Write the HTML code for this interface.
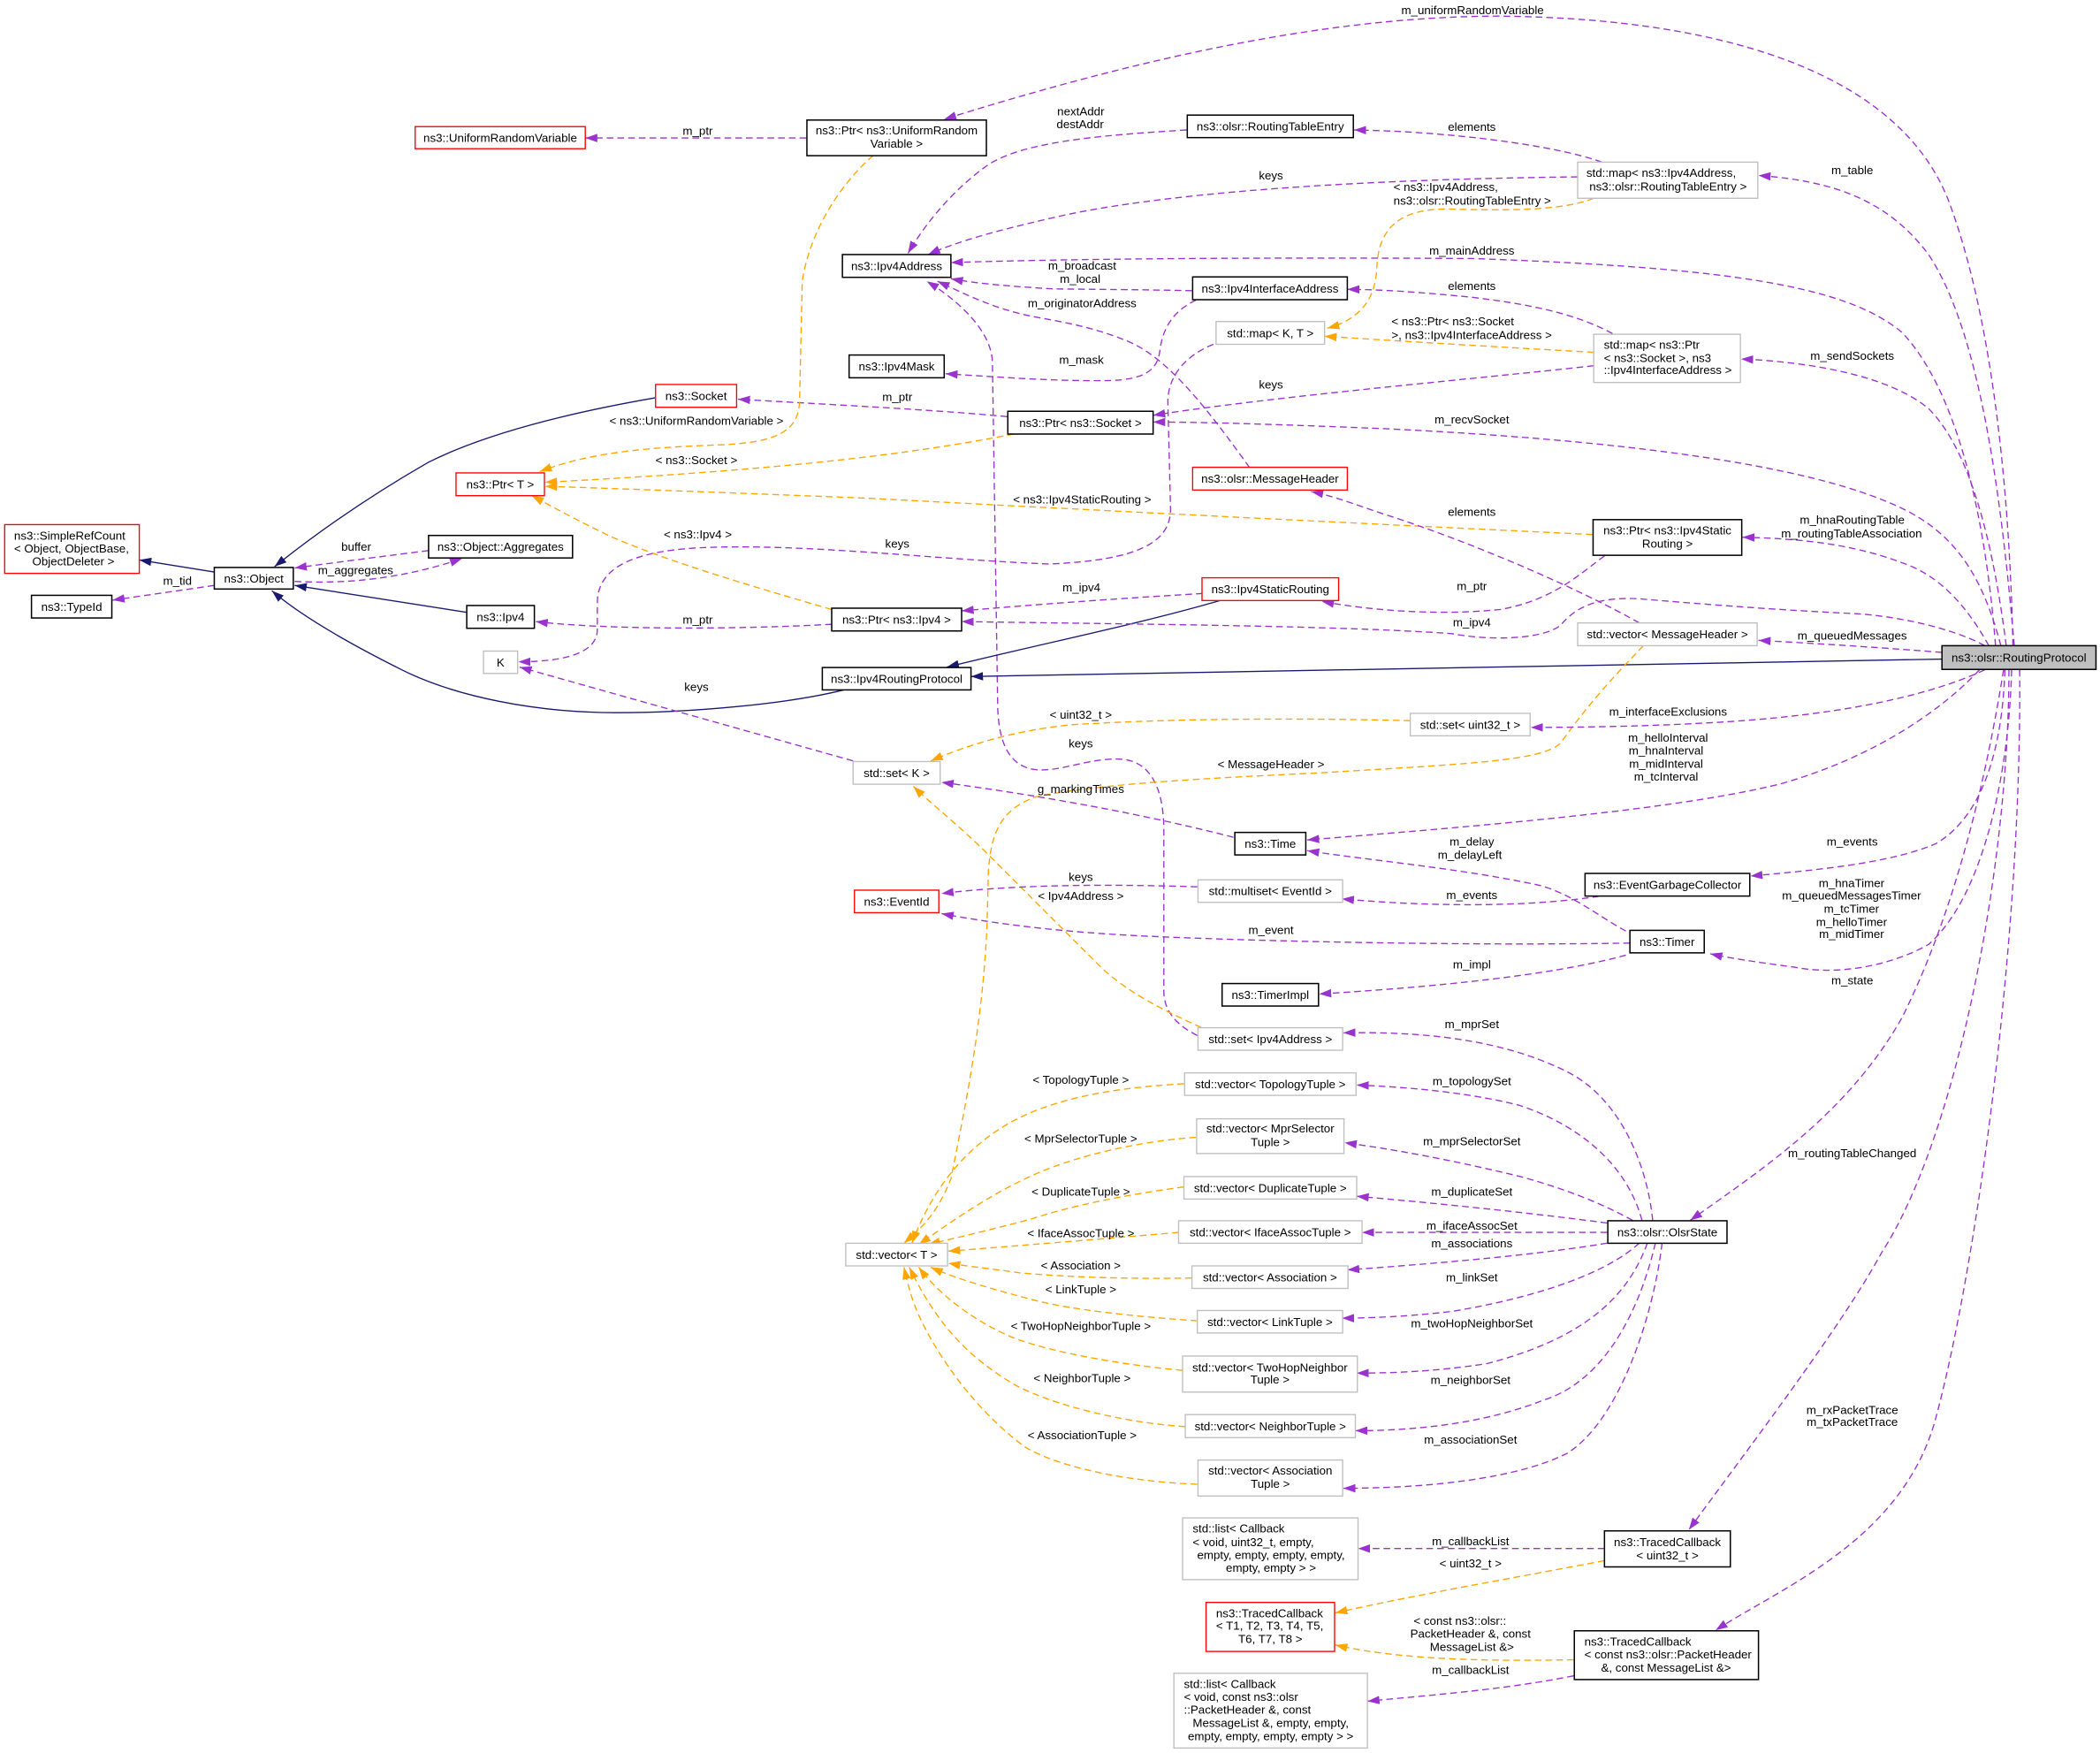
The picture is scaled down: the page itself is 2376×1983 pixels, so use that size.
<!DOCTYPE html>
<html><head><meta charset="utf-8"><style>
html,body{margin:0;padding:0;background:#fff;}
svg{display:block;}
text{font-family:"Liberation Sans",Arial,sans-serif;font-size:8.8px;fill:#000;}
.m{text-anchor:middle;}
.s{text-anchor:start;}
.p{fill:none;stroke:#9a32cd;stroke-width:0.9;stroke-dasharray:5,3;marker-end:url(#ap);}
.o{fill:none;stroke:#ffa500;stroke-width:0.9;stroke-dasharray:5,3;marker-end:url(#ao);}
.n{fill:none;stroke:#191970;stroke-width:0.9;marker-end:url(#an);}
.bk{fill:#fff;stroke:#000;stroke-width:1;}
.gr{fill:#fff;stroke:#bfbfbf;stroke-width:0.9;}
.rd{fill:#fff;stroke:#ff0000;stroke-width:0.9;}
</style></head><body>
<svg xmlns="http://www.w3.org/2000/svg" width="2376" height="1983" viewBox="0 0 1568 1308.6">
<defs>
<marker id="ap" viewBox="0 0 10 7" refX="10" refY="3.5" markerWidth="9" markerHeight="6.3" markerUnits="userSpaceOnUse" orient="auto"><path d="M0,0L10,3.5L0,7z" fill="#9a32cd"/></marker>
<marker id="ao" viewBox="0 0 10 7" refX="10" refY="3.5" markerWidth="9" markerHeight="6.3" markerUnits="userSpaceOnUse" orient="auto"><path d="M0,0L10,3.5L0,7z" fill="#ffa500"/></marker>
<marker id="an" viewBox="0 0 10 7" refX="10" refY="3.5" markerWidth="9" markerHeight="6.3" markerUnits="userSpaceOnUse" orient="auto"><path d="M0,0L10,3.5L0,7z" fill="#191970"/></marker>
</defs>
<rect x="0" y="0" width="1568" height="1308.6" fill="#fff"/>

<!-- edges -->
<path class="p" d="M602,103 L437,103"/>
<path class="p" d="M1503,482 C1500,350 1485,230 1455,150 C1420,60 1300,14 1120,12 C980,12 830,50 705,89"/>
<path class="p" d="M1196,121 C1160,108 1080,98 1011,97"/>
<path class="p" d="M886,97 C820,101 760,106 735,125 C712,142 692,165 678,189"/>
<path class="p" d="M1178,132 C1000,134 860,145 784,163 C745,172 715,180 693,190"/>
<path class="o" d="M1190,148 C1165,158 1120,157 1080,156 C1040,156 1029,175 1028,200 C1027,228 1010,240 991,245"/>
<path class="p" d="M1490,482 C1482,380 1460,290 1420,248 C1380,215 1300,200 1100,193 C950,192 800,193 710,196"/>
<path class="p" d="M890,217 C850,216 800,216 784,215.5 C760,214 730,212 710,208"/>
<path class="p" d="M933,349 C905,310 875,270 845,256 C815,243 790,240 770,236 C740,230 718,218 700,210"/>
<path class="p" d="M894,773 C880,766 869,756 869,740 L869,620 C869,590 860,570 840,567 C815,564 790,578 770,574 C752,570 746,552 745,530 L741,270 C740,245 712,222 692,210"/>
<path class="p" d="M893,224 C876,232 868,245 866,262 C864,278 852,283 830,284 C790,285 740,281 706,279"/>
<path class="p" d="M752,311 C700,306 620,302 551,298"/>
<path class="p" d="M1190,273 C1100,283 950,296 861,310"/>
<path class="p" d="M1204,249 C1180,236 1150,228 1100,222 C1060,218 1030,216 1006,216"/>
<path class="o" d="M1190,263 C1120,259 1050,255 989,251"/>
<path class="p" d="M906,257 C886,265 872,280 872,300 L874,380 C874,405 850,418 784,421 C700,418 600,405 520,409 C470,412 446,425 446,450 L446,470 C446,488 420,494 387,494"/>
<path class="o" d="M652,116 C630,135 605,170 599,210 L597,300 C596,322 580,330 540,332 C480,334 440,338 403,352"/>
<path class="o" d="M757,324 C690,337 600,350 407,360"/>
<path class="o" d="M1189,399 C1000,390 800,380 650,372 C550,368 470,365 407,363"/>
<path class="o" d="M621,455 C570,440 500,420 455,400 C430,388 412,378 397,370"/>
<path class="n" d="M489,297 C420,309 360,325 320,345 C280,368 240,395 205,423"/>
<path class="p" d="M320,411 C280,416 250,420 220,424"/>
<path class="p" d="M220,434 C260,436 300,432 345,417"/>
<path class="n" d="M160,427 L104,418"/>
<path class="p" d="M160,437 L84,448"/>
<path class="n" d="M348,457 L220,437"/>
<path class="p" d="M621,466 C550,470 450,470 400,464"/>
<path class="n" d="M630,515 C590,525 520,532 460,532 C400,532 340,520 300,500 C260,480 225,460 203,441"/>
<path class="n" d="M912,448 C850,466 780,480 707,498"/>
<path class="n" d="M1450,492 L725,505"/>
<path class="p" d="M1198,415 C1180,428 1160,448 1120,455 C1070,460 1020,455 987,449"/>
<path class="p" d="M898,443 C850,446 800,449 718,456"/>
<path class="p" d="M1482,482 C1460,470 1420,460 1384,458 C1320,455 1260,450 1224,447 C1190,445 1175,455 1165,467 C1150,478 1110,478 1084,473 C1000,467 850,466 718,464"/>
<path class="p" d="M1485,482 C1470,455 1450,430 1420,420 C1380,405 1340,402 1301,401"/>
<path class="p" d="M1504,482 C1495,380 1480,250 1440,190 C1410,150 1370,135 1313,131"/>
<path class="p" d="M1498,482 C1490,420 1475,340 1440,305 C1410,280 1350,270 1300,268"/>
<path class="p" d="M1494,482 C1480,430 1460,395 1410,375 C1340,345 1200,328 1034,320 C960,317 900,315 861,315"/>
<path class="p" d="M1450,487 C1400,483 1350,480 1313,478"/>
<path class="p" d="M1224,465 C1180,440 1100,405 1034,384 C1010,376 995,370 979,367"/>
<path class="o" d="M1227,482 C1210,500 1190,520 1165,555 C1150,568 1100,570 984,577 C900,581 820,585 773,595 C745,605 740,625 738,650 L737,690 C734,760 722,820 710,880 C700,905 690,915 675,928"/>
<path class="o" d="M1053,538 C980,536 880,536 800,541 C760,545 725,555 695,568"/>
<path class="p" d="M1482,500 C1450,515 1400,528 1334,535 C1280,541 1200,543 1143,543"/>
<path class="p" d="M1478,500 C1450,530 1400,565 1330,585 C1250,605 1100,617 976,627"/>
<path class="p" d="M921,625 C870,612 800,597 703,584"/>
<path class="p" d="M637,568 L388,498"/>
<path class="o" d="M897,767 C870,755 840,740 820,720 C790,690 760,660 740,640 C715,615 695,600 682,587"/>
<path class="p" d="M894,662 C830,660 760,660 703,667"/>
<path class="p" d="M1194,669 C1150,676 1080,678 1002,671"/>
<path class="p" d="M1497,500 C1495,560 1480,610 1445,630 C1410,645 1350,650 1307,654"/>
<path class="p" d="M1214,695 C1195,685 1175,668 1150,661 C1090,648 1020,642 976,635"/>
<path class="p" d="M1217,704 C1100,706 950,703 860,699 C790,696 740,689 703,682"/>
<path class="p" d="M1214,713 C1170,725 1100,735 985,742"/>
<path class="p" d="M1502,500 C1500,580 1480,670 1440,705 C1410,722 1370,728 1340,722 C1310,718 1290,715 1277,712"/>
<path class="p" d="M1496,500 C1480,600 1455,690 1420,760 C1380,830 1320,870 1262,911"/>
<path class="p" d="M1500,500 C1500,650 1460,850 1405,935 C1375,990 1310,1075 1261,1142"/>
<path class="p" d="M1508,500 C1510,700 1475,950 1445,1060 C1420,1150 1330,1185 1281,1217"/>
<path class="p" d="M1234,911 C1230,870 1210,820 1170,800 C1120,775 1060,770 1003,771"/>
<path class="p" d="M1226,911 C1215,870 1180,840 1134,825 C1090,814 1040,811 1013,810"/>
<path class="p" d="M1219,911 C1190,895 1160,885 1134,878 C1080,865 1040,858 1004,853"/>
<path class="p" d="M1200,913 C1140,905 1070,898 1013,893"/>
<path class="p" d="M1200,920 L1017,920"/>
<path class="p" d="M1200,928 C1140,938 1060,944 1006,948"/>
<path class="p" d="M1224,928 C1200,950 1150,968 1084,979 C1050,983 1020,984 1002,984"/>
<path class="p" d="M1230,928 C1215,970 1180,1000 1110,1018 C1070,1024 1040,1025 1013,1025"/>
<path class="p" d="M1236,928 C1225,975 1200,1030 1153,1045 C1110,1062 1060,1068 1012,1068"/>
<path class="p" d="M1241,928 C1235,980 1210,1060 1170,1085 C1130,1105 1060,1111 1003,1111"/>
<path class="o" d="M884,809 C830,812 790,820 760,835 C720,855 695,890 681,928"/>
<path class="o" d="M893,849 C850,852 810,862 784,872 C750,885 720,905 686,929"/>
<path class="o" d="M884,886 C840,892 800,900 770,910 C740,918 710,925 693,929"/>
<path class="o" d="M880,920 C820,925 760,930 708,934"/>
<path class="o" d="M890,954 C840,955 790,953 760,950 C740,947 720,945 708,943"/>
<path class="o" d="M894,986 C850,983 800,978 770,970 C740,962 715,955 695,946"/>
<path class="o" d="M883,1023 C830,1018 780,1008 755,998 C725,985 700,965 686,946"/>
<path class="o" d="M885,1065 C840,1062 790,1050 760,1035 C725,1015 700,990 679,946"/>
<path class="o" d="M894,1108 C840,1106 790,1095 765,1080 C725,1050 700,1010 690,990 C682,975 678,960 675,946"/>
<path class="p" d="M1198,1156 L1014,1156"/>
<path class="o" d="M1198,1165 C1130,1178 1060,1190 997,1204"/>
<path class="o" d="M1175,1239 C1120,1240 1050,1240 997,1228"/>
<path class="p" d="M1175,1251 C1120,1262 1060,1266 1021,1270"/>

<!-- edge labels -->
<g class="m">
<text x="1099.5" y="10.6">m_uniformRandomVariable</text>
<text x="521" y="100.7">m_ptr</text>
<text x="807" y="86.1">nextAddr</text>
<text x="806.5" y="95.7">destAddr</text>
<text x="1099" y="97.7">elements</text>
<text x="949" y="134.1">keys</text>
<text x="1383" y="130.1">m_table</text>
<text x="1099" y="190.1">m_mainAddress</text>
<text x="808" y="201.4">m_broadcast</text>
<text x="806.5" y="211.1">m_local</text>
<text x="1099" y="216.6">elements</text>
<text x="808" y="229.4">m_originatorAddress</text>
<text x="807.5" y="271.4">m_mask</text>
<text x="1383" y="268.7">m_sendSockets</text>
<text x="949" y="290">keys</text>
<text x="670" y="299.1">m_ptr</text>
<text x="1099" y="316.1">m_recvSocket</text>
<text x="520" y="317.1">&lt; ns3::UniformRandomVariable &gt;</text>
<text x="520" y="346.5">&lt; ns3::Socket &gt;</text>
<text x="808" y="375.8">&lt; ns3::Ipv4StaticRouting &gt;</text>
<text x="1099" y="385.1">elements</text>
<text x="1383" y="391">m_hnaRoutingTable</text>
<text x="1382.5" y="401.1">m_routingTableAssociation</text>
<text x="521" y="401.8">&lt; ns3::Ipv4 &gt;</text>
<text x="670" y="408.8">keys</text>
<text x="266" y="411.1">buffer</text>
<text x="265.5" y="428.7">m_aggregates</text>
<text x="132.5" y="436.4">m_tid</text>
<text x="1099" y="440.5">m_ptr</text>
<text x="807.5" y="441.5">m_ipv4</text>
<text x="521" y="465.7">m_ptr</text>
<text x="1099" y="467.7">m_ipv4</text>
<text x="1383" y="477.5">m_queuedMessages</text>
<text x="520" y="515.6">keys</text>
<text x="1245.5" y="534.3">m_interfaceExclusions</text>
<text x="807" y="536.4">&lt; uint32_t &gt;</text>
<text x="1245.5" y="553.8">m_helloInterval</text>
<text x="1244" y="563.1">m_hnaInterval</text>
<text x="1244" y="573">m_midInterval</text>
<text x="1244" y="582.7">m_tcInterval</text>
<text x="807" y="557.9">keys</text>
<text x="949" y="573.3">&lt; MessageHeader &gt;</text>
<text x="807" y="591.9">g_markingTimes</text>
<text x="1099" y="631.2">m_delay</text>
<text x="1097.5" y="641">m_delayLeft</text>
<text x="1383" y="631.2">m_events</text>
<text x="807" y="657.7">keys</text>
<text x="1382.5" y="662.2">m_hnaTimer</text>
<text x="1382.5" y="671.6">m_queuedMessagesTimer</text>
<text x="1382.5" y="681.4">m_tcTimer</text>
<text x="1382.5" y="691.1">m_helloTimer</text>
<text x="1382.5" y="700.3">m_midTimer</text>
<text x="807" y="671.7">&lt; Ipv4Address &gt;</text>
<text x="1099" y="671">m_events</text>
<text x="949" y="697.2">m_event</text>
<text x="1099" y="722.8">m_impl</text>
<text x="1383" y="734.9">m_state</text>
<text x="1099" y="767.6">m_mprSet</text>
<text x="807" y="809">&lt; TopologyTuple &gt;</text>
<text x="1099" y="810.1">m_topologySet</text>
<text x="807" y="852.9">&lt; MprSelectorTuple &gt;</text>
<text x="1099" y="854.8">m_mprSelectorSet</text>
<text x="1383" y="863.9">m_routingTableChanged</text>
<text x="807" y="892.5">&lt; DuplicateTuple &gt;</text>
<text x="1099" y="892.5">m_duplicateSet</text>
<text x="807" y="923.5">&lt; IfaceAssocTuple &gt;</text>
<text x="1099" y="917.8">m_ifaceAssocSet</text>
<text x="1099" y="931.2">m_associations</text>
<text x="807" y="947.7">&lt; Association &gt;</text>
<text x="1099" y="956.5">m_linkSet</text>
<text x="807" y="965.6">&lt; LinkTuple &gt;</text>
<text x="1099" y="990.8">m_twoHopNeighborSet</text>
<text x="807" y="992.9">&lt; TwoHopNeighborTuple &gt;</text>
<text x="808" y="1031.7">&lt; NeighborTuple &gt;</text>
<text x="1098" y="1033.1">m_neighborSet</text>
<text x="1383" y="1055.4">m_rxPacketTrace</text>
<text x="1383" y="1064.6">m_txPacketTrace</text>
<text x="808" y="1074.3">&lt; AssociationTuple &gt;</text>
<text x="1098" y="1077.6">m_associationSet</text>
<text x="1098" y="1153.7">m_callbackList</text>
<text x="1098" y="1170.1">&lt; uint32_t &gt;</text>
<text x="1099" y="1232.4">MessageList &amp;&gt;</text>
<text x="1098" y="1249.6">m_callbackList</text>
</g>
<g class="s">
<text x="1040.5" y="142.5">&lt; ns3::Ipv4Address,</text>
<text x="1040.5" y="152.6">ns3::olsr::RoutingTableEntry &gt;</text>
<text x="1039" y="242.8">&lt; ns3::Ptr&lt; ns3::Socket</text>
<text x="1039" y="252.9">&gt;, ns3::Ipv4InterfaceAddress &gt;</text>
<text x="1055.5" y="1212.8">&lt; const ns3::olsr::</text>
<text x="1053" y="1222.5">PacketHeader &amp;, const</text>
</g>

<!-- nodes -->
<rect class="rd" x="310" y="94.5" width="127" height="16.5"/>
<text class="m" x="373.5" y="105.9">ns3::UniformRandomVariable</text>

<rect class="bk" x="602.5" y="89.6" width="134" height="26.6"/>
<text class="m" x="669.5" y="100.4">ns3::Ptr&lt; ns3::UniformRandom</text>
<text class="m" x="669.5" y="110.2">Variable &gt;</text>

<rect class="bk" x="886.5" y="85.9" width="124" height="16.8"/>
<text class="m" x="948.5" y="97.4">ns3::olsr::RoutingTableEntry</text>

<rect class="gr" x="1178" y="121" width="134.5" height="27"/>
<text class="s" x="1184.5" y="132.1">std::map&lt; ns3::Ipv4Address,</text>
<text class="m" x="1245.5" y="142.1">ns3::olsr::RoutingTableEntry &gt;</text>

<rect class="bk" x="629" y="190" width="81" height="17"/>
<text class="m" x="669.5" y="201.6">ns3::Ipv4Address</text>

<rect class="bk" x="890.5" y="206.7" width="115.5" height="17"/>
<text class="m" x="948.3" y="218.3">ns3::Ipv4InterfaceAddress</text>

<rect class="gr" x="908" y="240" width="81" height="17"/>
<text class="m" x="948.5" y="251.6">std::map&lt; K, T &gt;</text>

<rect class="gr" x="1190" y="249.5" width="109.5" height="36"/>
<text class="s" x="1197.5" y="260.3">std::map&lt; ns3::Ptr</text>
<text class="s" x="1197.5" y="270.1">&lt; ns3::Socket &gt;, ns3</text>
<text class="s" x="1197.5" y="279.2">::Ipv4InterfaceAddress &gt;</text>

<rect class="bk" x="634" y="265" width="71" height="17"/>
<text class="m" x="669.5" y="276.6">ns3::Ipv4Mask</text>

<rect class="rd" x="489.5" y="287" width="60.5" height="17"/>
<text class="m" x="519.75" y="298.6">ns3::Socket</text>

<rect class="bk" x="752.5" y="307" width="108.5" height="17"/>
<text class="m" x="806.75" y="318.6">ns3::Ptr&lt; ns3::Socket &gt;</text>

<rect class="rd" x="890.5" y="348.8" width="115.5" height="17"/>
<text class="m" x="948.3" y="360.4">ns3::olsr::MessageHeader</text>

<rect class="rd" x="340.5" y="353" width="66" height="17"/>
<text class="m" x="373.5" y="364.6">ns3::Ptr&lt; T &gt;</text>

<rect class="bk" x="1189.5" y="387.9" width="111" height="26.6"/>
<text class="m" x="1245" y="399">ns3::Ptr&lt; ns3::Ipv4Static</text>
<text class="m" x="1245" y="408.7">Routing &gt;</text>

<rect class="rd" x="3.5" y="391.6" width="100.5" height="36.4"/>
<text class="s" x="10.5" y="402.8">ns3::SimpleRefCount</text>
<text class="s" x="10.5" y="412.5">&lt; Object, ObjectBase,</text>
<text class="m" x="54.75" y="422">ObjectDeleter &gt;</text>

<rect class="bk" x="320" y="399.7" width="107.5" height="16.8"/>
<text class="m" x="373.75" y="411.2">ns3::Object::Aggregates</text>

<rect class="rd" x="897.5" y="431.3" width="102" height="17"/>
<text class="m" x="948.5" y="442.9">ns3::Ipv4StaticRouting</text>

<rect class="bk" x="160" y="423.6" width="59" height="16.1"/>
<text class="m" x="189.5" y="434.8">ns3::Object</text>

<rect class="bk" x="23.5" y="444.4" width="60" height="16.9"/>
<text class="m" x="53.5" y="456">ns3::TypeId</text>

<rect class="bk" x="348.5" y="452" width="50.5" height="17"/>
<text class="m" x="373.75" y="463.6">ns3::Ipv4</text>

<rect class="bk" x="621" y="454" width="97" height="17"/>
<text class="m" x="669.5" y="465.6">ns3::Ptr&lt; ns3::Ipv4 &gt;</text>

<rect class="gr" x="1178" y="465" width="134" height="17"/>
<text class="m" x="1245" y="476.6">std::vector&lt; MessageHeader &gt;</text>

<rect x="1450" y="482" width="115" height="17.7" fill="#bfbfbf" stroke="#000" stroke-width="1"/>
<text class="m" x="1507.5" y="494">ns3::olsr::RoutingProtocol</text>

<rect class="gr" x="361" y="486" width="25.5" height="16.7"/>
<text class="m" x="373.75" y="497.5">K</text>

<rect class="bk" x="614" y="498.3" width="111" height="16.7"/>
<text class="m" x="669.5" y="509.8">ns3::Ipv4RoutingProtocol</text>

<rect class="gr" x="1053" y="532.5" width="89.5" height="16.8"/>
<text class="m" x="1097.75" y="544">std::set&lt; uint32_t &gt;</text>

<rect class="gr" x="637" y="568.5" width="65" height="16.9"/>
<text class="m" x="669.5" y="580.1">std::set&lt; K &gt;</text>

<rect class="bk" x="922" y="621.4" width="53" height="16.8"/>
<text class="m" x="948.5" y="632.9">ns3::Time</text>

<rect class="gr" x="894.5" y="656.8" width="108" height="16.8"/>
<text class="m" x="948.5" y="668.3">std::multiset&lt; EventId &gt;</text>

<rect class="bk" x="1183.5" y="652" width="123" height="16.9"/>
<text class="m" x="1245" y="663.6">ns3::EventGarbageCollector</text>

<rect class="rd" x="638" y="664.5" width="63" height="16.8"/>
<text class="m" x="669.5" y="676">ns3::EventId</text>

<rect class="bk" x="1217" y="694.5" width="55.5" height="16.8"/>
<text class="m" x="1244.75" y="706">ns3::Timer</text>

<rect class="bk" x="912.5" y="734.2" width="72" height="16.8"/>
<text class="m" x="948.5" y="745.7">ns3::TimerImpl</text>

<rect class="gr" x="894.5" y="767.2" width="108" height="16.8"/>
<text class="m" x="948.5" y="778.7">std::set&lt; Ipv4Address &gt;</text>

<rect class="gr" x="884.5" y="800.9" width="128" height="16.8"/>
<text class="m" x="948.5" y="812.4">std::vector&lt; TopologyTuple &gt;</text>

<rect class="gr" x="893.5" y="835.2" width="110" height="25.9"/>
<text class="m" x="948.5" y="845.4">std::vector&lt; MprSelector</text>
<text class="m" x="948.5" y="855.5">Tuple &gt;</text>

<rect class="gr" x="884" y="878.3" width="129" height="16.8"/>
<text class="m" x="948.5" y="889.8">std::vector&lt; DuplicateTuple &gt;</text>

<rect class="gr" x="880" y="911.3" width="137" height="16.8"/>
<text class="m" x="948.5" y="922.8">std::vector&lt; IfaceAssocTuple &gt;</text>

<rect class="bk" x="1200.5" y="911.3" width="89" height="16.8"/>
<text class="m" x="1245" y="922.8">ns3::olsr::OlsrState</text>

<rect class="gr" x="631.5" y="928.1" width="76" height="16.9"/>
<text class="m" x="669.5" y="939.6">std::vector&lt; T &gt;</text>

<rect class="gr" x="890" y="945" width="116.5" height="16.8"/>
<text class="m" x="948.25" y="956.5">std::vector&lt; Association &gt;</text>

<rect class="gr" x="894" y="978.3" width="108.5" height="16.8"/>
<text class="m" x="948.25" y="989.8">std::vector&lt; LinkTuple &gt;</text>

<rect class="gr" x="883" y="1012.3" width="130.5" height="26.9"/>
<text class="m" x="948.25" y="1023.8">std::vector&lt; TwoHopNeighbor</text>
<text class="m" x="948.25" y="1032.9">Tuple &gt;</text>

<rect class="gr" x="885" y="1056" width="127" height="17.2"/>
<text class="m" x="948.5" y="1067.7">std::vector&lt; NeighborTuple &gt;</text>

<rect class="gr" x="894.5" y="1089.9" width="108" height="26.9"/>
<text class="m" x="948.5" y="1100.7">std::vector&lt; Association</text>
<text class="m" x="948.5" y="1110.7">Tuple &gt;</text>

<rect class="gr" x="883" y="1133.1" width="131" height="46.1"/>
<text class="s" x="890.5" y="1144">std::list&lt; Callback</text>
<text class="s" x="890.5" y="1154.1">&lt; void, uint32_t, empty,</text>
<text class="m" x="949" y="1163.8">empty, empty, empty, empty,</text>
<text class="m" x="949" y="1173.5">empty, empty &gt; &gt;</text>

<rect class="bk" x="1198" y="1142.8" width="94" height="26.9"/>
<text class="m" x="1245" y="1154.1">ns3::TracedCallback</text>
<text class="m" x="1245" y="1164">&lt; uint32_t &gt;</text>

<rect class="rd" x="900.5" y="1196.2" width="96" height="36.6"/>
<text class="s" x="908" y="1207.2">ns3::TracedCallback</text>
<text class="s" x="908" y="1216.7">&lt; T1, T2, T3, T4, T5,</text>
<text class="m" x="948.5" y="1226.4">T6, T7, T8 &gt;</text>

<rect class="bk" x="1175.5" y="1217.4" width="137.5" height="36.4"/>
<text class="s" x="1183" y="1228.6">ns3::TracedCallback</text>
<text class="s" x="1183" y="1237.9">&lt; const ns3::olsr::PacketHeader</text>
<text class="m" x="1244" y="1247.8">&amp;, const MessageList &amp;&gt;</text>

<rect class="gr" x="876.5" y="1249.1" width="144.5" height="55.8"/>
<text class="s" x="884" y="1260.2">std::list&lt; Callback</text>
<text class="s" x="884" y="1269.7">&lt; void, const ns3::olsr</text>
<text class="s" x="884" y="1279.3">::PacketHeader &amp;, const</text>
<text class="m" x="948.75" y="1289.3">MessageList &amp;, empty, empty,</text>
<text class="m" x="948.75" y="1299">empty, empty, empty, empty &gt; &gt;</text>
</svg>
</body></html>
